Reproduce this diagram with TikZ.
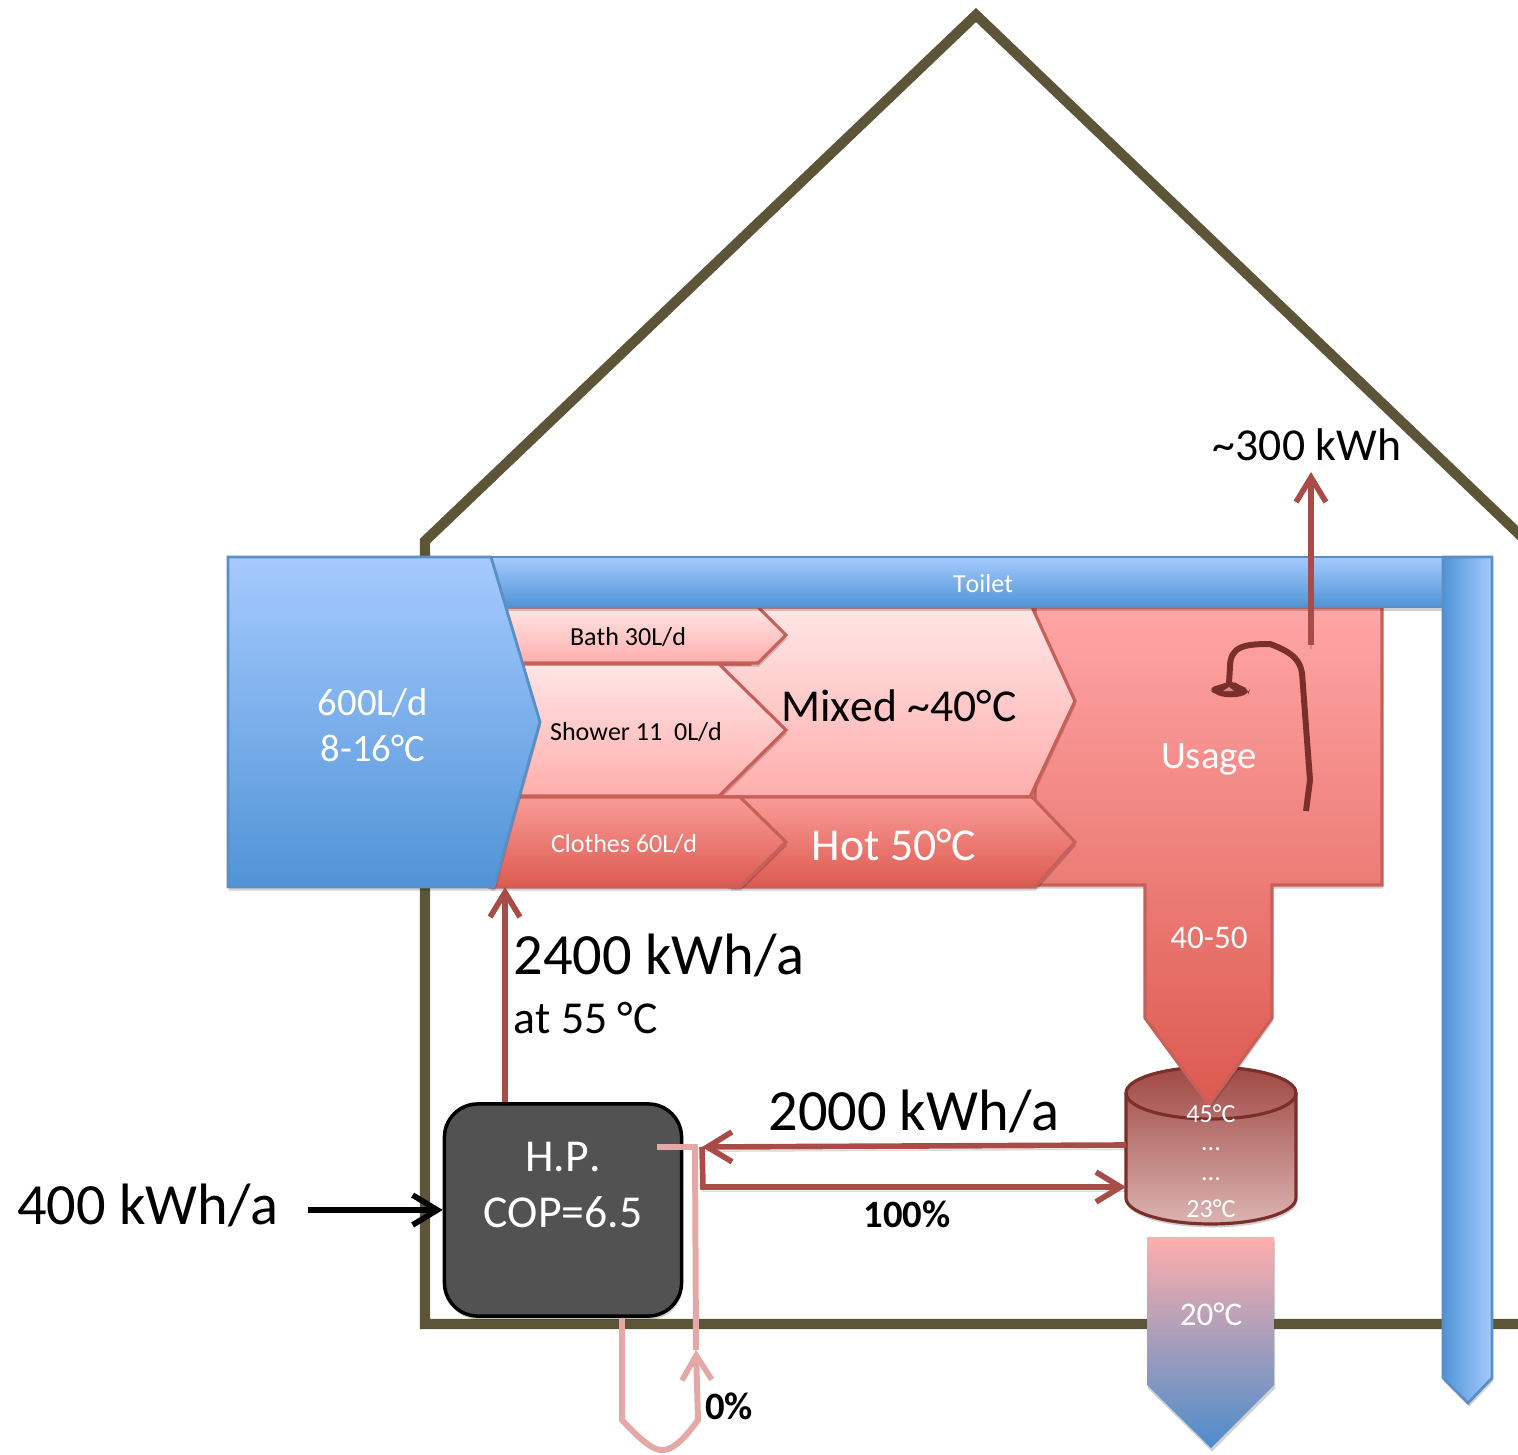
\documentclass[tikz,border=0pt]{standalone}
\usepackage{fontspec}
\setmainfont{Carlito}[Kerning=Off]
\usetikzlibrary{arrows.meta,shadows}
\definecolor{wallcol}{HTML}{5C5537}
\definecolor{flowcol}{HTML}{A94C47}
\definecolor{paleflow}{HTML}{E4A8A6}
\definecolor{redline}{HTML}{C8605A}
\definecolor{blueline}{HTML}{5A8FC5}
\definecolor{darkred}{HTML}{7A2F2B}
\definecolor{bluetop}{HTML}{A6CAFF}
\definecolor{bluebot}{HTML}{5094D6}
\definecolor{palered}{HTML}{FFE6E6}
\definecolor{midred}{HTML}{FFAEAC}
\definecolor{deepred}{HTML}{DC5A4F}
\definecolor{hottop}{HTML}{FA9C98}
\tikzset{
  softshadow/.style={drop shadow={shadow xshift=0.3pt,shadow yshift=-1pt,opacity=.18,fill=black}},
  lineshadow/.style={preaction={draw=black,draw opacity=.15,transform canvas={yshift=-1.2pt},-}},
  bigtext/.style={font=\fontsize{16.6}{20}\selectfont,inner sep=0pt},
  midtext/.style={font=\fontsize{13}{16}\selectfont,inner sep=0pt},
  usetext/.style={font=\fontsize{11}{13.1}\selectfont,inner sep=0pt,align=center},
  flowtext/.style={font=\fontsize{9.4}{11}\selectfont,inner sep=0pt,text=white},
  smalltext/.style={font=\fontsize{7.4}{9}\selectfont,inner sep=0pt},
  boldtext/.style={font=\fontsize{11}{13}\selectfont\bfseries,inner sep=0pt},
  barb/.style={-{Straight Barb[length=7pt,width=8.5pt,line width=1.6pt]}},
  flow/.style={draw=flowcol,line width=1.6pt,barb},
  redbox/.style={softshadow,draw=redline,line width=0.9pt},
  bluebox/.style={softshadow,draw=blueline,line width=0.8pt},
}
\begin{document}
\begin{tikzpicture}[x=0.01cm,y=-0.01cm,line join=miter]
    \useasboundingbox (0,0) rectangle (1518,1455);
    % house
    \draw[wallcol,line width=2.9pt,lineshadow] (1522,1324) -- (425,1324) -- (425,541) -- (976,15) -- (1522,537);
    % storage
    \path[softshadow,draw=darkred,line width=0.9pt,top color=flowcol!95!black,bottom color=flowcol!42!white]
      (1126,1093) arc (180:0:85 and -26) -- (1296,1198) arc (0:-180:85 and -26) -- cycle;
    \draw[darkred,line width=0.9pt] (1126,1093) arc (180:360:85 and -26);
    % cold water out
    \path[softshadow,top color=midred,bottom color=bluebot!95!black] (1147,1237) -- (1274,1237) -- (1274,1385) -- (1211,1448) -- (1147,1385) -- cycle;
    % usage
    \path[redbox,top color=red!35!white,bottom color=deepred]
      (1035,607) -- (1382,607) -- (1382,885) -- (1272,885) -- (1272,1018) -- (1209,1105) -- (1145,1018) -- (1145,885) -- (1035,885) -- cycle;
    % mixed and hot
    \path[redbox,top color=palered,bottom color=midred]
      (750,607) -- (1032,607) -- (1075,701) -- (1030,797) -- (719,797) -- (719,664) -- (750,664) -- cycle;
    \path[redbox,top color=hottop,bottom color=deepred]
      (730,797) -- (1032,797) -- (1075,842) -- (1035,887) -- (730,887) -- cycle;
    % taps
    \path[redbox,top color=palered,bottom color=midred]
      (500,607) -- (758,607) -- (786,635) -- (758,663) -- (500,663) -- cycle;
    \path[redbox,top color=palered,bottom color=midred]
      (500,664) -- (719,664) -- (786,730) -- (719,796) -- (500,796) -- cycle;
    \path[redbox,top color=hottop,bottom color=deepred]
      (490,797) -- (740,797) -- (786,842) -- (740,887) -- (490,887) -- cycle;
    % blue pipes
    \path[bluebox,top color=bluetop,bottom color=bluebot]
      (480,557) -- (1492,557) -- (1492,607) -- (480,607) -- cycle;
    \path[bluebox,left color=bluebot,right color=bluetop]
      (1443,557) -- (1492,557) -- (1492,1378) -- (1468,1403) -- (1443,1378) -- cycle;
    \path[bluebox,top color=bluetop,bottom color=bluebot]
      (228,557) -- (491,557) -- (540,722) -- (494,887) -- (228,887) -- cycle;
    % shower
    \draw[darkred,line width=1.7pt] (1306,811) -- (1310,780) -- (1307,740) -- (1302,673)
      .. controls (1300,662) and (1295,653) .. (1270,644) .. controls (1245,644) and (1230,646) .. (1230,667) -- (1229,683);
    \fill[darkred,rounded corners=2pt] (1208,688) -- (1226,683) -- (1232,680) -- (1240,686) -- (1250,689) -- (1248,695) -- (1230,698) -- (1215,695) -- cycle;
    \fill[midred!70!darkred] (1229,687) -- (1223,691) -- (1234,691) -- cycle;
    % heat pump
    \node[softshadow,draw=black,line width=1pt,fill=black!68,rounded corners=9.5pt,minimum width=2.37cm,minimum height=2.12cm,inner sep=0pt] (hp) at (563,1210) {};
    \node[midtext,text=white,align=center] (hptext) at (563,1185) {H.P.\\COP=6.5};
    % connectors
    \coordinate (topin) at (505,887);
    \coordinate (shout) at (1311,645);
    \coordinate (shend) at (1311,472);
    \coordinate (elec) at (308,1210);
    \coordinate (back) at (702,1147);
    \coordinate (backa) at (703,1187);
    \coordinate (storea) at (1126,1145);
    \coordinate (storeb) at (1126,1187);
    \coordinate (palein) at (657,1147);
    \coordinate (paleup) at (696,1350);
    \draw[flow,lineshadow] (hp.north -| topin) -- (topin);
    \draw[flow,lineshadow] (shout) -- (shend);
    \draw[draw=black,line width=1.6pt,barb] (elec) -- (hp.west |- elec);
    \draw[flow,lineshadow] (storea) -- (back);
    \draw[flow,lineshadow] (back) -- (backa) -- (storeb);
    \draw[draw=paleflow,line width=1.7pt,barb]
      (hp.south -| 622,0) -- (622,1420) .. controls (645,1445) and (655,1450) .. (662,1450) .. controls (670,1450) and (680,1445) .. (698,1420) -- (paleup);
    \draw[draw=paleflow,line width=1.7pt] (paleup) -- (695,1147) -- (palein);
    % labels
    \node[usetext,text=white] (supply) at (373,725) {600L/d\\8-16°C};
    \node[smalltext,text=white] (toilet) at (983,584) {Toilet};
    \node[smalltext] (bath) at (628,637) {Bath 30L/d};
    \node[smalltext] (showertap) at (636,732) {Shower 11\ \ 0L/d};
    \node[smalltext,text=white] (clothes) at (624,844) {Clothes 60L/d};
    \node[midtext] (mixed) at (899,706) {Mixed \char`\~40°C};
    \node[midtext,text=white] (hot) at (894,845) {Hot 50°C};
    \node[usetext,text=white] (usage) at (1209,759) {Usage};
    \node[flowtext] (drain) at (1209,938) {40-50};
    \node[midtext] (loss) at (1307,445) {\char`\~300 kWh};
    \node[bigtext,anchor=west] (hpout) at (513,955) {2400 kWh/a};
    \node[midtext,anchor=west] (hptemp) at (513,1018) {at 55 °C};
    \node[bigtext] (recov) at (914,1111) {2000 kWh/a};
    \node[boldtext] (full) at (907,1214) {100\%};
    \node[boldtext] (none) at (729,1406) {0\%};
    \node[bigtext] (elecin) at (148,1205) {400 kWh/a};
    \node[smalltext,text=white] (tank) at (1211,1114) {45°C};
    \node[smalltext,text=white] (tankb) at (1211,1149) {...};
    \node[smalltext,text=white] (tankc) at (1211,1179) {...};
    \node[smalltext,text=white] (tankd) at (1211,1209) {23°C};
    \node[flowtext] (sewer) at (1211,1314) {20°C};
\end{tikzpicture}
\end{document}
